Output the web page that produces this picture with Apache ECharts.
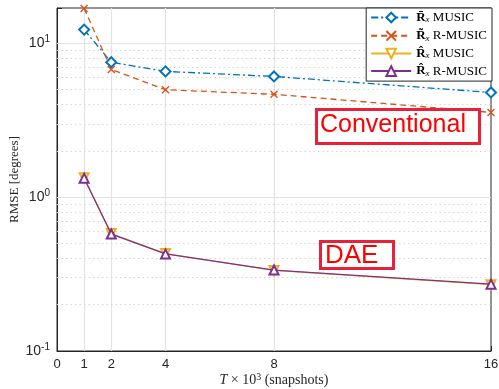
<!DOCTYPE html>
<html>
<head>
<meta charset="utf-8">
<script src="https://cdn.jsdelivr.net/npm/echarts@6/dist/echarts.min.js"></script>
<style>
  html, body { margin: 0; padding: 0; background: #fff; }
  #chart { width: 499px; height: 389px; }
</style>
</head>
<body>
<div id="chart"></div>
<script>
var snapshots = [1, 2, 4, 8, 16];
var xTicks = [0, 1, 2, 4, 8, 16];
var xGrid = [1, 2, 4, 8];
var yMinor = [0.2, 0.3, 0.4, 0.5, 0.6, 0.7, 0.8, 0.9, 2, 3, 4, 5, 6, 7, 8, 9];

var barMusic = [12.3, 7.55, 6.58, 6.1, 4.8];
var tildeRMusic = [16.9, 6.78, 5.0, 4.67, 3.56];
var hatMusic = [1.34, 0.58, 0.43, 0.334, 0.27];
var hatRMusic = [1.33, 0.576, 0.428, 0.336, 0.272];

var legendText = {
  'bar': '{r|R\u0304}{s|x} MUSIC',
  'tilde': '{r|R\u0303}{s|x} R-MUSIC',
  'hat': '{r|R\u0302}{s|x} MUSIC',
  'hatR': '{r|R\u0302}{s|x} R-MUSIC'
};

function pairs(vals) {
  return snapshots.map(function (x, i) { return [x, vals[i]]; });
}

var chart = echarts.init(document.getElementById('chart'));

var gridLines = xGrid.map(function (v) { return { xAxis: v }; })
  .concat([{ yAxis: 1 }, { yAxis: 10 }]);
var minorLines = yMinor.map(function (v) { return { yAxis: v }; });

var option = {
  animation: false,
  backgroundColor: '#fff',
  grid: {
    left: 57, right: 8, top: 8, bottom: 38,
    outerBoundsMode: 'none',
    containLabel: false,
    show: true, borderColor: '#262626', borderWidth: 1, backgroundColor: '#fff'
  },
  xAxis: {
    type: 'value',
    min: 0, max: 16,
    axisLine: { lineStyle: { color: '#262626' } },
    axisTick: { inside: true, length: 5, customValues: xTicks, lineStyle: { color: '#262626' } },
    axisLabel: {
      customValues: xTicks,
      color: '#262626', fontFamily: 'Liberation Sans', fontSize: 13, margin: 7
    },
    splitLine: { show: false },
    name: '{i|T} \u00d7 10{sup|3} (snapshots)',
    nameLocation: 'middle',
    nameMoveOverlap: false,
    nameGap: 21,
    nameTextStyle: {
      fontFamily: 'Liberation Serif', fontSize: 14, color: '#262626',
      rich: {
        i: { fontFamily: 'Liberation Serif', fontStyle: 'italic', fontSize: 14, color: '#262626' },
        sup: { fontFamily: 'Liberation Serif', fontSize: 10, verticalAlign: 'top', padding: [0, 0, 6, 0], color: '#262626' }
      }
    }
  },
  yAxis: {
    type: 'log',
    logBase: 10,
    min: 0.1, max: 17,
    axisLine: { show: true, lineStyle: { color: '#262626' } },
    axisTick: { inside: true, length: 5, lineStyle: { color: '#262626' } },
    axisLabel: {
      color: '#262626', fontFamily: 'Liberation Sans', fontSize: 14, margin: 7,
      formatter: function (v) {
        var e = Math.log(v) / Math.LN10;
        if (Math.abs(e - Math.round(e)) > 1e-6) return '';
        return '10{sup|' + Math.round(e) + '}';
      },
      rich: {
        sup: { fontFamily: 'Liberation Sans', fontSize: 10, padding: [0, 0, 8, 0], color: '#262626' }
      }
    },
    splitLine: { show: false },
    name: 'RMSE [degrees]',
    nameLocation: 'middle',
    nameMoveOverlap: false,
    nameGap: 36,
    nameTextStyle: { fontFamily: 'Liberation Serif', fontSize: 13, color: '#262626' }
  },
  legend: {
    right: 7, top: 8,
    orient: 'vertical',
    backgroundColor: '#fff',
    borderColor: '#262626', borderWidth: 1,
    padding: [3, 5, 3, 4],
    itemGap: 4,
    itemWidth: 40, itemHeight: 12,
    formatter: function (name) { return legendText[name]; },
    textStyle: {
      fontFamily: 'Liberation Serif', fontSize: 13, color: '#000',
      rich: {
        r: { fontFamily: 'Liberation Serif', fontWeight: 'bold', fontSize: 13, color: '#000' },
        s: { fontFamily: 'Liberation Serif', fontStyle: 'italic', fontSize: 9, padding: [5, 0, 0, 0], color: '#000' }
      }
    }
  },
  series: [
    {
      name: 'bar', type: 'line', data: pairs(barMusic), z: 5,
      symbol: 'emptyDiamond', symbolSize: 10,
      lineStyle: { color: '#0072BD', width: 1.3, type: [7, 3, 2, 3] },
      itemStyle: { color: '#0072BD', borderWidth: 1.3 },
      markLine: {
        silent: true, symbol: 'none', label: { show: false },
        lineStyle: { color: '#e3e3e3', width: 1.2, type: 'solid' },
        data: gridLines, z: 1
      }
    },
    {
      name: 'tilde', type: 'line', data: pairs(tildeRMusic), z: 5,
      symbol: 'path://M0,0L10,10M10,0L0,10', symbolSize: 7,
      lineStyle: { color: '#D95319', width: 1.3, type: [6, 4] },
      itemStyle: { color: 'none', borderColor: '#D95319', borderWidth: 1.4 },
      markLine: {
        silent: true, symbol: 'none', label: { show: false },
        lineStyle: { color: '#d6d6d6', width: 1, type: [1.5, 3] },
        data: minorLines, z: 1
      }
    },
    {
      name: 'hat', type: 'line', data: pairs(hatMusic), z: 5,
      symbol: 'emptyTriangle', symbolSize: 9, symbolRotate: 180,
      lineStyle: { color: '#EDB120', width: 1.3 },
      itemStyle: { color: '#EDB120', borderWidth: 1.3 }
    },
    {
      name: 'hatR', type: 'line', data: pairs(hatRMusic), z: 6,
      symbol: 'emptyTriangle', symbolSize: 9,
      lineStyle: { color: '#7E2F8E', width: 1.3 },
      itemStyle: { color: '#7E2F8E', borderWidth: 1.3 }
    }
  ],
  graphic: [
    {
      type: 'rect', left: 315, top: 108, z: 100,
      shape: { width: 163, height: 34 },
      style: { fill: '#fff', stroke: '#E8203A', lineWidth: 3 }
    },
    {
      type: 'text', left: 320, top: 113, z: 101,
      style: { text: 'Conventional', fill: '#FF0000', font: '25px "Liberation Sans"' }
    },
    {
      type: 'rect', left: 319, top: 240, z: 100,
      shape: { width: 73, height: 27 },
      style: { fill: '#fff', stroke: '#E8203A', lineWidth: 3 }
    },
    {
      type: 'text', left: 325, top: 243, z: 101,
      style: { text: 'DAE', fill: '#FF0000', font: '26px "Liberation Sans"' }
    }
  ]
};

chart.setOption(option);
</script>
</body>
</html>
